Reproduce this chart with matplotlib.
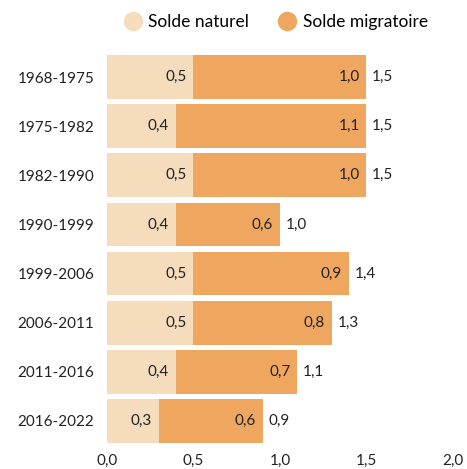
import matplotlib.pyplot as plt
from matplotlib.lines import Line2D

plt.rcParams['font.family'] = ['Lato', 'DejaVu Sans']
plt.rcParams['font.size'] = 11

periods = ['1968-1975', '1975-1982', '1982-1990', '1990-1999',
           '1999-2006', '2006-2011', '2011-2016', '2016-2022']
naturel = [0.5, 0.4, 0.5, 0.4, 0.5, 0.5, 0.4, 0.3]
migratoire = [1.0, 1.1, 1.0, 0.6, 0.9, 0.8, 0.7, 0.6]
totals = [1.5, 1.5, 1.5, 1.0, 1.4, 1.3, 1.1, 0.9]

c_nat = '#F5DCBD'
c_mig = '#EFA760'


def fr(v):
    return f'{v:.1f}'.replace('.', ',')


fig = plt.figure(figsize=(4.67, 4.69), dpi=100)
ax = fig.add_axes([0.229, 0.050, 0.741, 0.838])

y = list(range(len(periods)))
ax.barh(y, naturel, height=0.89, color=c_nat)
ax.barh(y, migratoire, left=naturel, height=0.89, color=c_mig)

for i in y:
    ax.annotate(fr(naturel[i]), (naturel[i], i), xytext=(-5, 0), textcoords='offset points',
                ha='right', va='center', color='#222222')
    end = naturel[i] + migratoire[i]
    ax.annotate(fr(migratoire[i]), (end, i), xytext=(-5, 0), textcoords='offset points',
                ha='right', va='center', color='#222222')
    ax.annotate(fr(totals[i]), (end, i), xytext=(4, 0), textcoords='offset points',
                ha='left', va='center', color='#222222')

ax.set_ylim(len(periods) - 0.5, -0.5)
ax.set_xlim(0, 2.0)
ax.set_yticks(y)
ax.set_yticklabels(periods)
ax.set_xticks([0, 0.5, 1.0, 1.5, 2.0])
ax.set_xticklabels([fr(v) for v in [0, 0.5, 1.0, 1.5, 2.0]])
ax.tick_params(length=0, colors='#222222')
ax.tick_params(axis='y', pad=9)
ax.tick_params(axis='x', pad=6)
for s in ax.spines.values():
    s.set_visible(False)

handles = [Line2D([], [], marker='o', ls='', markersize=13, color=c_nat),
           Line2D([], [], marker='o', ls='', markersize=13, color=c_mig)]
fig.legend(handles, ['Solde naturel', 'Solde migratoire'], loc='center',
           bbox_to_anchor=(0.589, 0.953), ncol=2, frameon=False, fontsize=12.5,
           handletextpad=0.3, columnspacing=1.6, handlelength=1.2)

fig.savefig('out.png', dpi=100)
